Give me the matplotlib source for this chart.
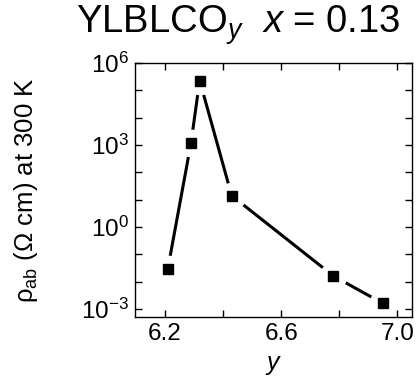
import matplotlib
matplotlib.use('Agg')
import matplotlib.pyplot as plt
from matplotlib.ticker import FixedLocator, LogFormatterSciNotation, NullFormatter

plt.rcParams['font.family'] = ['Liberation Sans', 'DejaVu Sans']
plt.rcParams['mathtext.fontset'] = 'custom'
plt.rcParams['mathtext.rm'] = 'Liberation Sans'
plt.rcParams['mathtext.it'] = 'Liberation Sans:italic'
plt.rcParams['mathtext.default'] = 'regular'

# data
y_oxygen = [6.21, 6.29, 6.32, 6.43, 6.78, 6.95]
rho_ab = [10**-1.55, 10**3.07, 10**5.36, 10**1.15, 10**-1.79, 10**-2.79]

x_ticks = [6.2, 6.6, 7.0]
x_minor = [6.4, 6.8]
y_major = [1e-3, 1e0, 1e3, 1e6]
y_minor = [1e-2, 1e-1, 1e1, 1e2, 1e4, 1e5]

fig = plt.figure(figsize=(4.2, 3.82), dpi=100)
ax = fig.add_axes([0.321, 0.170, 0.660, 0.665])

ax.plot(y_oxygen, rho_ab, color='black', lw=2.2, zorder=2)
# white halo so the line stops short of each marker
ax.plot(y_oxygen, rho_ab, ls='none', marker='o', ms=20, mfc='white', mec='none', zorder=2.1)
ax.plot(y_oxygen, rho_ab, ls='none', marker='s', ms=7.5, mfc='black', mec='black', zorder=3)

ax.set_yscale('log')
ax.set_xlim(6.097, 7.05)
ax.set_ylim(10**-3.29, 1e6)

ax.xaxis.set_major_locator(FixedLocator(x_ticks))
ax.xaxis.set_minor_locator(FixedLocator(x_minor))
ax.set_xticklabels(['6.2', '6.6', '7.0'])
ax.yaxis.set_major_locator(FixedLocator(y_major))
ax.yaxis.set_minor_locator(FixedLocator(y_minor))
ax.yaxis.set_major_formatter(LogFormatterSciNotation())
ax.yaxis.set_minor_formatter(NullFormatter())

ax.tick_params(which='both', direction='in', top=True, right=True,
               length=5, width=1.0, labelsize=17.5, pad=4)
for s in ax.spines.values():
    s.set_linewidth(1.0)

ax.set_xlabel('$\\mathit{y}$', fontsize=18, labelpad=6)
ax.set_ylabel('$\\rho_{ab}$ ($\\Omega$ cm) at 300 K', fontsize=18.5, labelpad=30)
fig.text(0.567, 0.914, 'YLBLCO$_{\\mathit{y}}$  $\\mathit{x}$ = 0.13', ha='center', va='baseline', fontsize=27.5)

fig.savefig('out.png', dpi=100)
